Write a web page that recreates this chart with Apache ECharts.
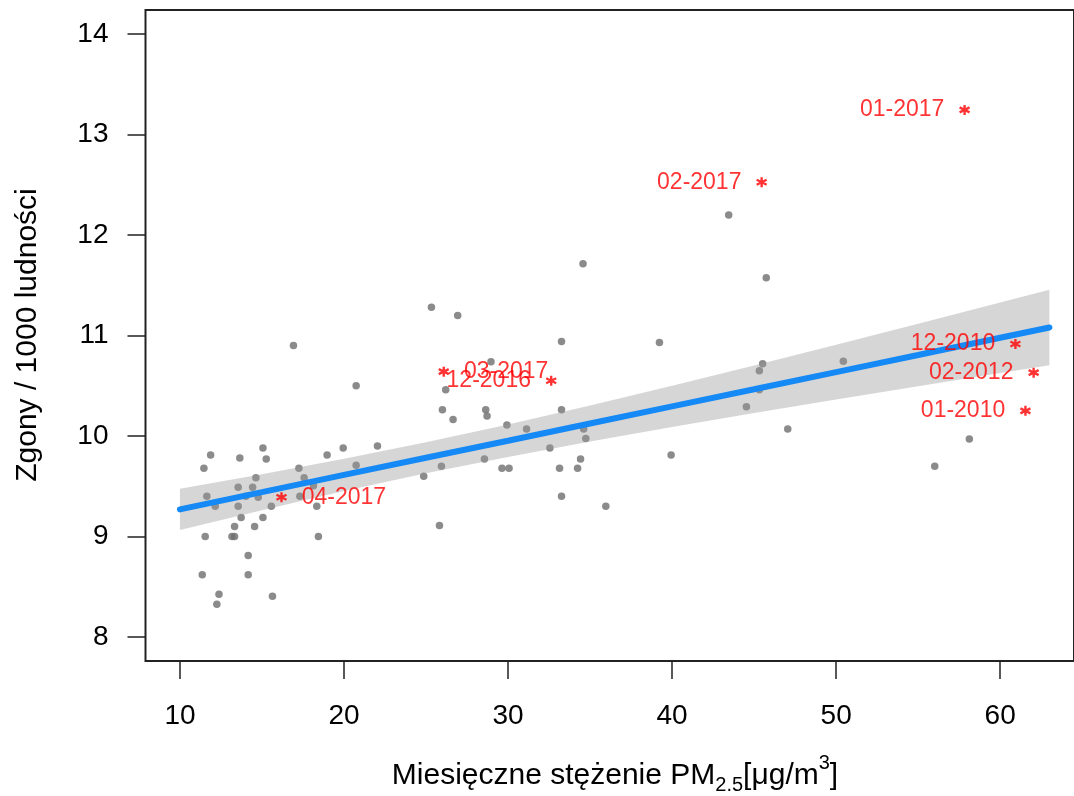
<!DOCTYPE html>
<html>
<head>
<meta charset="utf-8">
<script src="https://cdn.jsdelivr.net/npm/echarts@6/dist/echarts.min.js"></script>
<style>
  html, body { margin: 0; padding: 0; background: #ffffff; }
  #chart { width: 1074px; height: 796px; }
</style>
</head>
<body>
<div id="chart"></div>
<script>
// Tick values for both axes
const xTicks = [10, 20, 30, 40, 50, 60];
const yTicks = [8, 9, 10, 11, 12, 13, 14];

// Monthly observations: [PM2.5 concentration, deaths per 1000 inhabitants]
const monthlyPoints = [
  [16.92, 10.90], [20.74, 10.50], [26.20, 10.46], [26.00, 10.26], [11.46, 9.68],
  [11.87, 9.81], [13.65, 9.78], [15.06, 9.88], [15.26, 9.77], [17.25, 9.68],
  [18.97, 9.81], [19.95, 9.88], [22.04, 9.90], [20.74, 9.71], [25.94, 9.70],
  [24.86, 9.60], [25.82, 9.11], [11.64, 9.40], [12.15, 9.30], [13.55, 9.49],
  [13.55, 9.30], [14.02, 9.40], [14.43, 9.49], [14.63, 9.585], [14.77, 9.39],
  [13.73, 9.19], [15.06, 9.19], [13.33, 9.10], [14.55, 9.10], [15.57, 9.30],
  [17.57, 9.585], [18.14, 9.505], [18.34, 9.30], [17.31, 9.40], [11.54, 9.00],
  [13.17, 9.00], [13.33, 9.00], [18.44, 9.00], [14.16, 8.81], [11.36, 8.62],
  [14.16, 8.62], [12.38, 8.425], [12.25, 8.325], [15.64, 8.405], [25.33, 11.28],
  [26.93, 11.20], [33.26, 10.94], [28.96, 10.74], [26.65, 10.165], [28.64, 10.26],
  [28.72, 10.20], [33.26, 10.26], [29.93, 10.11], [31.13, 10.07], [34.61, 10.07],
  [34.74, 9.975], [32.55, 9.88], [28.56, 9.77], [29.63, 9.68], [30.06, 9.68],
  [33.14, 9.68], [34.24, 9.68], [34.42, 9.77], [33.26, 9.40], [35.96, 9.30],
  [43.45, 12.20], [34.57, 11.715], [45.74, 11.575], [39.23, 10.93], [45.52, 10.72],
  [45.32, 10.65], [50.44, 10.745], [45.32, 10.46], [44.53, 10.29], [47.05, 10.07],
  [39.94, 9.81], [58.12, 9.97], [56.01, 9.70]
];

// Highlighted months
const flaggedMonths = ['01-2017', '02-2017', '12-2010', '02-2012', '01-2010', '12-2016', '03-2017', '04-2017'];
const flaggedPM = [57.83, 45.46, 60.93, 62.04, 61.54, 32.63, 26.08, 16.19];
const flaggedDeaths = [13.245, 12.525, 10.915, 10.63, 10.25, 10.55, 10.64, 9.39];
const labelledOnRight = ['03-2017', '04-2017'];

// Linear fit with its 95% confidence band
const fitX = [10, 15, 20, 25, 30, 35, 40, 45, 50, 55, 60, 63];
const fitY = [9.27, 9.441, 9.613, 9.784, 9.953, 10.124, 10.295, 10.465, 10.636, 10.806, 10.978, 11.08];
const bandLower = [9.065, 9.262, 9.452, 9.630, 9.792, 9.945, 10.090, 10.228, 10.363, 10.495, 10.627, 10.705];
const bandUpper = [9.475, 9.620, 9.774, 9.938, 10.114, 10.303, 10.500, 10.702, 10.909, 11.117, 11.329, 11.455];

const FONT = '"Liberation Sans", Arial, Helvetica, sans-serif';

const chart = echarts.init(document.getElementById('chart'), null, { renderer: 'canvas' });

const flaggedData = flaggedMonths.map((name, i) => {
  const right = labelledOnRight.includes(name);
  return {
    name: name,
    value: [flaggedPM[i], flaggedDeaths[i]],
    label: { position: right ? 'right' : 'left' }
  };
});

const option = {
  backgroundColor: '#ffffff',
  animation: false,
  grid: {
    left: 145.5, top: 10, right: -1, bottom: 135,
    show: true, borderColor: '#222', borderWidth: 2, backgroundColor: 'transparent'
  },
  xAxis: {
    type: 'value', min: 7.9, max: 64.5,
    splitLine: { show: false },
    axisLine: { show: false },
    axisTick: { show: true, customValues: xTicks, length: 18, inside: false, lineStyle: { color: '#222', width: 1.5 } },
    axisLabel: { customValues: xTicks, fontSize: 28, fontFamily: FONT, color: '#000', margin: 41 }
  },
  yAxis: {
    type: 'value', min: 7.761, max: 14.239,
    splitLine: { show: false },
    axisLine: { show: false },
    axisTick: { show: true, customValues: yTicks, length: 18, inside: false, lineStyle: { color: '#222', width: 1.5 } },
    axisLabel: { customValues: yTicks, fontSize: 28, fontFamily: FONT, color: '#000', margin: 37 }
  },
  graphic: [
    {
      type: 'text', x: 28, y: 335, rotation: Math.PI / 2,
      style: { text: 'Zgony / 1000 ludności', font: '30px ' + FONT, fill: '#000', align: 'center', verticalAlign: 'middle' }
    },
    {
      type: 'text', x: 615, y: 776,
      style: {
        text: 'Miesięczne stężenie PM{sub|2.5}[μg/m{sup|3}]',
        font: '30px ' + FONT, fill: '#000', align: 'center', verticalAlign: 'middle',
        lineHeight: 46,
        rich: {
          sub: { fontSize: 20, fontFamily: FONT, fill: '#000', verticalAlign: 'bottom', padding: [0, 0, 4, 0] },
          sup: { fontSize: 20, fontFamily: FONT, fill: '#000', verticalAlign: 'top' }
        }
      }
    }
  ],
  series: [
    {
      type: 'scatter', name: 'obs', data: monthlyPoints, symbol: 'circle', symbolSize: 7.5,
      itemStyle: { color: '#6e6e6e' }, z: 2
    },
    {
      type: 'custom', name: 'band', z: 3,
      data: [[fitX[0], fitY[0]]],
      renderItem: function (params, api) {
        const pts = [];
        for (let i = 0; i < fitX.length; i++) pts.push(api.coord([fitX[i], bandUpper[i]]));
        for (let i = fitX.length - 1; i >= 0; i--) pts.push(api.coord([fitX[i], bandLower[i]]));
        return { type: 'polygon', shape: { points: pts }, style: { fill: 'rgba(153,153,153,0.4)' } };
      }
    },
    {
      type: 'line', name: 'fit', z: 4,
      data: fitX.map((x, i) => [x, fitY[i]]),
      showSymbol: false, symbol: 'none',
      lineStyle: { color: '#1589F5', width: 6, cap: 'round' }
    },
    {
      type: 'scatter', name: 'flagged', z: 5,
      data: flaggedData,
      symbol: 'path://M0,-10L0,10M-8.66,-5L8.66,5M-8.66,5L8.66,-5',
      symbolSize: 10,
      itemStyle: { color: 'rgba(0,0,0,0)', borderColor: '#ff0000', borderWidth: 2.4 },
      label: {
        show: true, formatter: '{b}', distance: 14,
        fontSize: 23, fontFamily: FONT, color: '#ff0000'
      }
    }
  ]
};

chart.setOption(option);
</script>
</body>
</html>
